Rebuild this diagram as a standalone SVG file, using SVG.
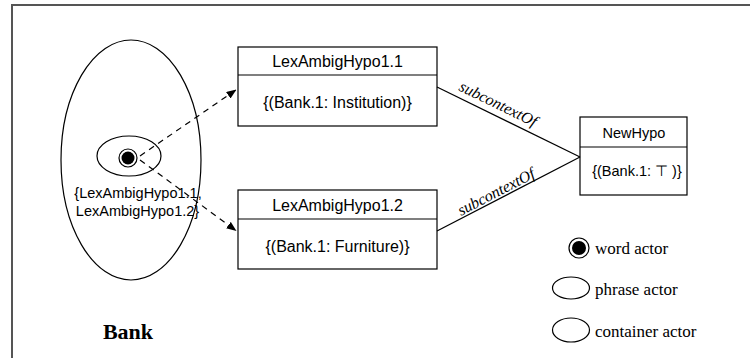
<svg xmlns="http://www.w3.org/2000/svg" width="750" height="358" viewBox="0 0 750 358">
  <defs>
    <marker id="arrow" viewBox="0 0 10 8" refX="10" refY="4" markerWidth="10" markerHeight="8" markerUnits="userSpaceOnUse" orient="auto">
      <path d="M0,0 L10,4 L0,8 Z" fill="#000"/>
    </marker>
    <style>
      .frame { stroke: #555; stroke-width: 2; fill: none; }
      .shape { fill: #fff; stroke: #000; stroke-width: 1.2; }
      .line { stroke: #000; stroke-width: 1.2; fill: none; }
      .dash { stroke: #000; stroke-width: 1.2; fill: none; stroke-dasharray: 6 5; }
      .sans { font-family: "Liberation Sans", Arial, sans-serif; font-size: 16px; fill: #000; }
      .sans-sm { font-family: "Liberation Sans", Arial, sans-serif; font-size: 14.5px; fill: #000; }
      .small { font-family: "Liberation Sans", Arial, sans-serif; font-size: 14.5px; fill: #000; }
      .serif { font-family: "Liberation Serif", "Times New Roman", serif; font-size: 17px; fill: #000; }
      .rel { font-family: "Liberation Serif", "Times New Roman", serif; font-style: italic; font-size: 16px; fill: #000; }
      .title { font-family: "Liberation Serif", "Times New Roman", serif; font-weight: bold; font-size: 22px; fill: #000; }
    </style>
  </defs>

  <rect width="750" height="358" fill="#fff"/>
  <!-- outer frame (top and left edges) -->
  <path class="frame" d="M12,358 L12,5 L750,5"/>

  <!-- container actor: Bank -->
  <g id="bank">
    <ellipse class="shape" cx="131" cy="160" rx="70" ry="120"/>
    <text class="title" x="128" y="339" text-anchor="middle">Bank</text>
  </g>

  <!-- phrase actor inside Bank -->
  <g id="phrase">
    <ellipse class="shape" cx="129" cy="156" rx="32" ry="20"/>
  </g>

  <!-- word actor with its hypothesis set -->
  <g id="word">
    <circle class="shape" cx="128" cy="158" r="9"/>
    <circle cx="128" cy="158" r="6.5" fill="#000"/>
    <text class="small" x="138" y="198" text-anchor="middle">{LexAmbigHypo1.1,</text>
    <text class="small" x="137.5" y="216" text-anchor="middle">LexAmbigHypo1.2}</text>
  </g>

  <!-- hypothesis 1.1 -->
  <g id="hypo11">
    <rect class="shape" x="238" y="47" width="199" height="79"/>
    <line class="line" x1="238" y1="75" x2="437" y2="75"/>
    <text class="sans" x="337.5" y="67" text-anchor="middle">LexAmbigHypo1.1</text>
    <text class="sans" x="337.5" y="108" text-anchor="middle">{(Bank.1: Institution)}</text>
  </g>

  <!-- hypothesis 1.2 -->
  <g id="hypo12">
    <rect class="shape" x="238" y="190" width="199" height="79"/>
    <line class="line" x1="238" y1="219" x2="437" y2="219"/>
    <text class="sans" x="337.5" y="211" text-anchor="middle">LexAmbigHypo1.2</text>
    <text class="sans" x="337.5" y="252" text-anchor="middle">{(Bank.1: Furniture)}</text>
  </g>

  <!-- merged hypothesis -->
  <g id="newhypo">
    <rect class="shape" x="580" y="117" width="107" height="78"/>
    <line class="line" x1="580" y1="147" x2="687" y2="147"/>
    <text class="sans-sm" x="634" y="138" text-anchor="middle">NewHypo</text>
    <text class="sans-sm" x="637" y="176" text-anchor="middle">{(Bank.1: ⊤ )}</text>
  </g>

  <!-- connectors -->
  <g id="connectors">
    <line class="dash" x1="140" y1="156" x2="236.5" y2="89.5" marker-end="url(#arrow)"/>
    <line class="dash" x1="140" y1="160" x2="236.5" y2="231" marker-end="url(#arrow)"/>
    <line class="line" x1="437" y1="87" x2="580" y2="157"/>
    <line class="line" x1="437" y1="231" x2="580" y2="157"/>
    <text class="rel" transform="translate(458,90) rotate(26)">subcontextOf</text>
    <text class="rel" transform="translate(461,216) rotate(-27.5)">subcontextOf</text>
  </g>

  <!-- legend -->
  <g id="legend">
    <circle class="shape" cx="579" cy="248" r="10"/>
    <circle cx="579" cy="248" r="7" fill="#000"/>
    <text class="serif" x="595" y="254">word actor</text>
    <ellipse class="shape" cx="571" cy="288" rx="18.5" ry="11" stroke-width="1"/>
    <text class="serif" x="595" y="295">phrase actor</text>
    <ellipse class="shape" cx="571" cy="330" rx="18.5" ry="12" stroke-width="1.6"/>
    <text class="serif" x="595" y="337">container actor</text>
  </g>
</svg>
